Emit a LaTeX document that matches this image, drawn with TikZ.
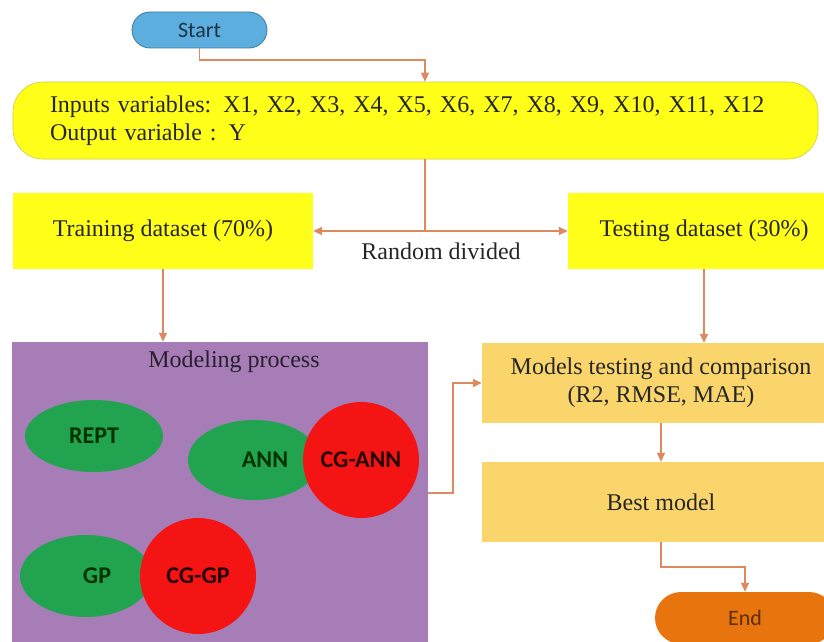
\documentclass[tikz,border=0pt]{standalone}
\usepackage{fontspec}
\setmainfont{Liberation Serif}
\newfontfamily\calibri{Carlito}
\usetikzlibrary{arrows.meta,positioning,calc,shapes.geometric}
\definecolor{arrColor}{HTML}{DE8A60}
\definecolor{ylwColor}{HTML}{FFFF1A}
\definecolor{startColor}{HTML}{5CAEDF}
\definecolor{endColor}{HTML}{E8740E}
\definecolor{purpColor}{HTML}{A67DB7}
\definecolor{grnColor}{HTML}{22A34F}
\definecolor{redColor}{HTML}{F51414}
\definecolor{goldColor}{HTML}{F9D56C}
\tikzset{
	conn/.style={draw=arrColor, line width=1.5pt},
	pill/.style={rounded corners=18pt, minimum width=135pt, minimum height=36pt, inner sep=0, font=\calibri\fontsize{22}{26}\selectfont},
	ylwbox/.style={fill=ylwColor, minimum width=300pt, minimum height=76pt, inner sep=0},
	goldbox/.style={fill=goldColor, minimum width=358pt, minimum height=80pt, inner sep=0, align=center},
	grnell/.style={ellipse, fill=grnColor, inner sep=0, text=black!80!green, font=\calibri\bfseries\fontsize{24}{28}\selectfont},
	redcirc/.style={circle, fill=redColor, minimum size=116pt, inner sep=0, text=black!85!red, font=\calibri\bfseries\fontsize{24}{28}\selectfont}
}
\begin{document}
\begin{tikzpicture}[->,>={Triangle[length=9pt,width=8pt]}, x=1pt, y=-1pt,
	every edge/.append style={conn}, font=\fontsize{24}{28}\selectfont, text=black!85]
	\clip (0,0) rectangle (824,642);
	\node[pill, fill=startColor, draw=startColor!70!black, line width=0.8pt, text=black!70!startColor] (start) at (199.5,30) {Start};
	\node[fill=ylwColor, draw=ylwColor!60!gray, line width=0.6pt, rounded corners=30pt, minimum width=805pt, minimum height=77pt, inner xsep=37pt, text width=731pt, align=left] (inp) at (415.5,120.5) {Inputs variables: X1, X2, X3, X4, X5, X6, X7, X8, X9, X10, X11, X12\\Output variable : Y};
	\coordinate (split) at (425,231);
	\draw[conn] (start.south) |- (split |- 0,60) -- (split |- inp.north);
	\node[ylwbox] (train) at (163,231) {Training dataset (70\%)};
	\node[ylwbox, minimum width=272pt] (test) at (704,231) {Testing dataset (30\%)};
	\draw[conn,-] (split |- inp.south) -- (split);
	\path (split) edge (train.east);
	\path (split) edge (test.west);
	\node (rnd) at (441,251) {Random divided};
	% modeling process
	\node[fill=purpColor, minimum width=416pt, minimum height=302pt, inner sep=0] (model) at (220,493) {};
	\node[text=black!75!purpColor] (mtitle) at (234,362) {Modeling process};
	\path (train.south) edge (train.south |- model.north);
	\node[grnell, minimum width=138pt, minimum height=72pt] (rept) at (94,436) {REPT};
	\node[grnell, minimum width=132pt, minimum height=80pt] (ann) at (254,460) {\hspace{22pt}ANN};
	\node[redcirc] (cgann) at (361,460) {CG-ANN};
	\node[grnell, minimum width=132pt, minimum height=82pt] (gp) at (86,576) {\hspace{22pt}GP};
	\node[redcirc] (cggp) at (198,576) {CG-GP};
	% testing side
	\node[goldbox] (cmp) at (661,383) {Models testing and comparison\\(R2, RMSE, MAE)};
	\path (test.south) edge (test.south |- cmp.north);
	\draw[conn] (model.east) -- ++(25,0) |- (cmp.west);
	\node[goldbox] (best) at (661,502) {Best model};
	\path (cmp.south) edge (best.north);
	\node[pill, fill=endColor, minimum width=180pt, minimum height=52pt, rounded corners=26pt, text=black!60!endColor] (stop) at (745,618) {End};
	\draw[conn] (best.south) -- ++(0,25) -| (stop.north);
\end{tikzpicture}
\end{document}
